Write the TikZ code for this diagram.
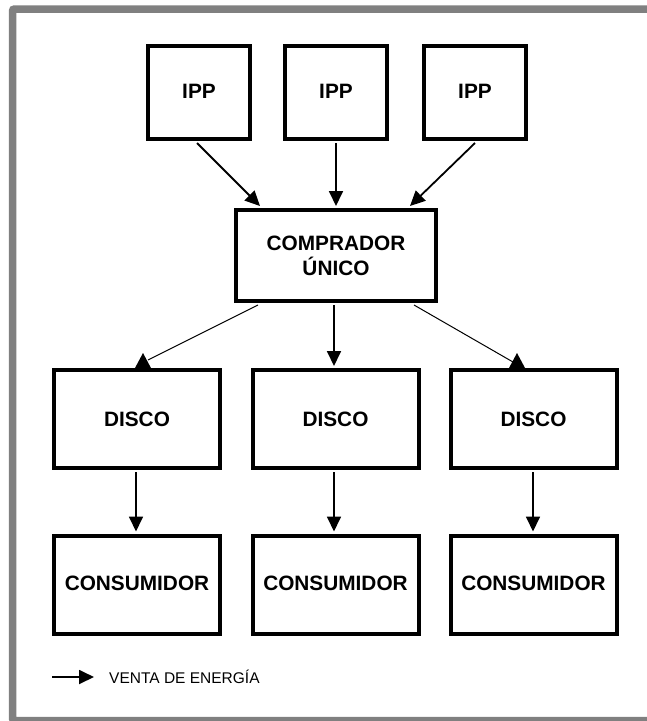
\documentclass[tikz,border=0pt]{standalone}
\usepackage{fontspec}
\setmainfont{Liberation Sans}
\usetikzlibrary{arrows.meta,calc}

\tikzset{
  box/.style={draw=black, line width=4pt, fill=white, inner sep=0pt,
    font=\fontsize{20.8}{25}\selectfont\bfseries, align=center},
  ippbox/.style={box, minimum width=102pt, minimum height=93pt},
  buyerbox/.style={box, minimum width=200pt, minimum height=91pt},
  discobox/.style={box, minimum width=166pt, minimum height=98pt},
  userbox/.style={box, minimum width=166pt, minimum height=98pt},
  flow/.style={draw=black, line width=1.8pt,
    -{Triangle[length=15pt,width=14pt]}},
  thinline/.style={draw=black, line width=1pt},
  uptip/.style={fill=black},
  frame/.style={draw={rgb,255:red,128;green,128;blue,128}, line width=7.5pt}
}

\begin{document}
\begin{tikzpicture}[x=1pt, y=-1pt]
  \useasboundingbox (0,0) rectangle (647,721);

  % outer frame
  \draw[frame, rounded corners=2pt] (12.5,9) rectangle (665,720.5);

  % producers
  \node[ippbox] (ipp1) at (199,92.5) {\raisebox{2pt}{IPP}};
  \node[ippbox] (ipp2) at (336,92.5) {\raisebox{2pt}{IPP}};
  \node[ippbox] (ipp3) at (475,92.5) {\raisebox{2pt}{IPP}};

  % single buyer
  \node[buyerbox] (buyer) at (336,255.5) {COMPRADOR\\ÚNICO};

  % distribution companies
  \node[discobox] (d1) at (137,419) {DISCO};
  \node[discobox] (d2) at (335.5,419) {DISCO};
  \node[discobox] (d3) at (533.5,419) {DISCO};

  % consumers
  \node[userbox] (c1) at (137,584.5) {\raisebox{2pt}{CONSUMIDOR}};
  \node[userbox] (c2) at (335.5,584.5) {\raisebox{2pt}{CONSUMIDOR}};
  \node[userbox] (c3) at (533.5,584.5) {\raisebox{2pt}{CONSUMIDOR}};

  % producers -> buyer
  \coordinate (b1) at ($(buyer.north west)+(26,-2)$);
  \coordinate (b3) at ($(buyer.north east)+(-28,-2)$);
  \draw[flow] ($(ipp1.south)+(-2,2)$) -- (b1);
  \draw[flow] ($(ipp2.south)+(0,2)$) -- ($(buyer.north)+(0,-2)$);
  \draw[flow] ($(ipp3.south)+(0,2)$) -- (b3);

  % buyer -> distribution
  \coordinate (s1) at ($(buyer.south west)+(24,2)$);
  \coordinate (s3) at ($(buyer.south east)+(-24,2)$);
  \coordinate (e1) at ($(d1.north)+(11,-8)$);
  \coordinate (e3) at ($(d3.north)+(-20.5,-6)$);
  \draw[thinline] (s1) -- (e1);
  \draw[thinline] (s3) -- (e3);
  \fill[uptip] ($(d1.north)+(6,-15)$) -- ++(8,15) -- ++(-16,0) -- cycle;
  \fill[uptip] ($(d3.north)+(-16.5,-15)$) -- ++(8,15) -- ++(-16,0) -- cycle;
  \draw[flow] ($(buyer.south)+(-2,2)$) -- ($(d2.north)+(-1.5,-2)$);

  % distribution -> consumers
  \draw[flow] ($(d1.south)+(-1,2)$) -- ($(c1.north)+(-1,-2)$);
  \draw[flow] ($(d2.south)+(-1.5,2)$) -- ($(c2.north)+(-1.5,-2)$);
  \draw[flow] ($(d3.south)+(-0.5,2)$) -- ($(c3.north)+(-0.5,-2)$);

  % legend
  \coordinate (la) at (52,677);
  \coordinate (lb) at (94,677);
  \draw[flow] (la) -- (lb);
  \node[anchor=west, inner sep=0pt, font=\fontsize{15.5}{18}\selectfont] (lt) at (109,677) {VENTA DE ENERGÍA};
\end{tikzpicture}
\end{document}
